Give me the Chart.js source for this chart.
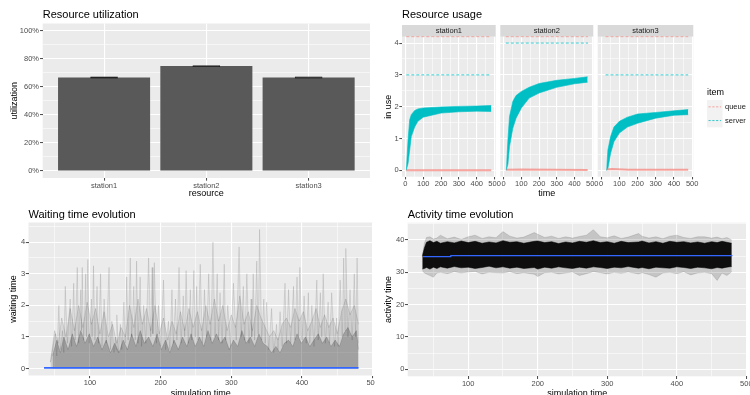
<!DOCTYPE html>
<html><head><meta charset="utf-8">
<script src="https://cdn.jsdelivr.net/npm/chart.js@4/dist/chart.umd.min.js"></script>
<style>
html,body{margin:0;padding:0;background:#fff;overflow:hidden;width:750px;height:395px;position:relative}
canvas{position:absolute}
</style></head><body>
<canvas id="c1" width="375" height="200" style="left:0;top:0"></canvas>
<canvas id="f1" width="375" height="200" style="left:375px;top:0"></canvas>
<canvas id="f2" width="375" height="200" style="left:375px;top:0"></canvas>
<canvas id="f3" width="375" height="200" style="left:375px;top:0"></canvas>
<canvas id="c3" width="375" height="205" style="left:0;top:200px"></canvas>
<canvas id="c4" width="375" height="205" style="left:375px;top:200px"></canvas>
<script>
// ---------------- data ----------------
const stations = ['station1', 'station2', 'station3'];
const utilization = [0.666, 0.747, 0.666];
const utilizationLow = [0.658, 0.740, 0.659];
const utilizationHigh = [0.673, 0.753, 0.672];
const utilizationTicks = [0, 0.2, 0.4, 0.6, 0.8, 1];

const usageItems = ['queue', 'server'];
const serverCapacity = [3, 4, 3];
const queueCapacityDrawn = 4.2; // queue size Inf -> drawn at panel top
const capacityTime = [[5, 481], [12, 476], [24, 478]];
const serverUseTime = [
  [5, 15, 24, 33, 52, 70, 100, 200, 300, 400, 481],
  [15, 24, 33, 52, 70, 100, 144, 200, 300, 400, 474],
  [30, 37, 52, 70, 100, 144, 200, 300, 400, 478]
];
const serverUseLow = [
  [0, 0.22, 0.64, 1.06, 1.36, 1.54, 1.67, 1.80, 1.84, 1.86, 1.85],
  [0, 0.20, 0.75, 1.33, 1.64, 1.96, 2.27, 2.43, 2.61, 2.72, 2.77],
  [0, 0.06, 0.54, 0.90, 1.17, 1.36, 1.48, 1.64, 1.73, 1.75]
];
const serverUseHigh = [
  [0, 0.96, 1.59, 1.75, 1.88, 1.93, 1.96, 1.99, 2.01, 2.02, 2.04],
  [0, 0.95, 1.69, 2.17, 2.35, 2.48, 2.61, 2.73, 2.83, 2.89, 2.94],
  [0, 0.64, 1.06, 1.36, 1.54, 1.67, 1.77, 1.82, 1.87, 1.91]
];
const queueUseTime = [[5, 481], [15, 100, 474], [30, 60, 150, 478]];
const queueUse = [[0, 0], [0.02, 0.03, 0.01], [0.03, 0.04, 0.02, 0.02]];
const usageTimeTicks = [0, 100, 200, 300, 400, 500];
const usageTicks = [0, 1, 2, 3, 4];

const simTimeTicks = [100, 200, 300, 400, 500];
const waitTicks = [0, 1, 2, 3, 4];
const waitMeanTime = [35, 480];
const waitMean = [0.02, 0.02];
const waitTopTime = [44,51,53,56,58,61,63,65,68,72,74,77,79,82,84,87,88,89,91,94,95,97,99,102,103,105,107,110,112,115,117,120,123,127,129,131,134,136,137,138,140,143,145,148,150,152,154,157,159,162,164,166,168,171,173,176,179,183,186,188,189,191,194,197,200,204,207,211,213,216,218,221,223,226,229,232,234,236,239,242,244,247,249,251,253,256,259,262,265,268,271,274,277,280,282,284,287,290,292,295,299,303,307,311,314,317,319,322,325,328,329,331,333,336,338,340,343,346,348,350,353,357,360,364,366,369,372,376,378,381,384,388,390,393,395,397,400,403,406,409,411,414,417,421,423,426,428,430,433,437,439,442,446,449,451,454,457,459,461,462,465,468,471,474,476,478,480];
const waitTop = [0.2,1.1,0.4,2.0,0.6,1.2,0.5,2.6,0.8,2.2,0.7,2.7,0.9,3.2,0.8,2.5,1.2,3.2,0.9,3.0,1.0,3.45,0.8,2.2,1.0,3.25,0.9,2.6,0.8,3.0,0.7,2.2,0.8,3.2,0.6,1.5,0.5,1.0,0.6,1.7,0.5,1.4,0.6,2.1,0.8,2.9,0.9,3.5,1.0,2.6,0.9,3.4,0.8,2.9,0.7,2.0,0.8,3.5,1.0,3.2,1.1,3.35,0.8,2.0,0.7,2.8,0.6,1.5,0.6,2.5,0.8,2.2,0.9,3.2,0.8,2.3,1.0,3.1,0.8,2.5,0.9,3.1,1.0,2.6,0.9,3.3,0.8,2.5,1.0,3.0,0.9,4.0,1.0,3.0,0.9,2.4,0.8,3.3,0.9,2.0,0.7,2.7,0.9,3.85,1.0,2.6,0.9,3.0,0.8,2.2,1.0,3.0,0.9,3.4,1.1,4.4,0.9,2.2,0.8,2.1,0.6,1.9,0.5,1.4,0.6,1.8,0.7,2.7,0.8,2.5,0.8,2.6,0.9,2.9,1.0,3.2,0.9,2.3,0.8,2.4,0.8,2.0,0.7,2.8,0.9,2.4,1.0,3.0,0.8,2.1,0.8,2.4,0.7,1.6,0.7,2.8,1.0,3.5,1.2,3.8,1.0,2.5,0.9,3.0,1.0,3.5,0.8];
const waitMidTime = [44,50,55,60,66,72,78,84,90,96,102,108,114,120,126,132,138,144,150,156,162,168,174,180,186,192,198,204,210,216,222,228,234,240,246,252,258,264,270,276,282,288,294,300,306,312,318,324,330,336,342,348,354,360,366,372,378,384,390,396,402,408,414,420,426,432,438,444,450,456,462,468,474,480];
const waitMid = [0.2,1.2,0.8,1.6,1.0,1.9,1.2,2.0,1.3,2.1,1.4,1.9,1.1,1.8,1.0,1.4,0.8,1.3,1.0,2.0,1.3,2.2,1.4,1.9,1.2,2.0,1.1,1.6,0.9,1.5,1.1,1.8,1.2,1.9,1.3,1.8,1.2,2.0,1.4,2.2,1.5,2.0,1.2,1.7,1.3,2.3,1.4,1.8,1.2,2.0,1.6,1.3,1.0,1.2,0.9,1.4,1.6,1.3,1.9,1.5,1.8,1.2,1.5,1.9,1.3,1.7,1.3,1.6,1.1,1.8,2.2,1.7,2.0,1.4];
const waitLowTime = [47,53,58,63,69,75,81,87,93,99,105,111,117,123,129,135,141,147,153,159,165,171,177,183,189,195,201,207,213,219,225,231,237,243,249,255,261,267,273,279,285,291,297,303,309,315,321,327,333,339,345,351,357,363,369,375,381,387,393,399,405,411,417,423,429,435,441,447,453,459,465,471,477,480];
const waitLow = [0.4,0.9,0.5,1.0,0.6,1.1,0.7,1.2,0.8,1.1,0.7,1.0,0.6,0.9,0.5,0.8,0.5,0.9,0.6,1.1,0.7,1.2,0.8,1.0,0.7,1.1,0.6,0.9,0.5,0.9,0.6,1.0,0.7,1.1,0.7,1.0,0.7,1.2,0.8,1.1,0.8,1.0,0.6,0.9,0.7,1.2,0.8,1.0,0.7,1.1,0.8,0.7,0.5,0.7,0.5,0.8,0.9,0.7,1.1,0.8,1.0,0.7,0.9,1.1,0.8,1.0,0.7,0.9,0.7,1.1,1.3,1.0,1.2,0.6];

const activityTicks = [0, 10, 20, 30, 40];
const actMeanTime = [35, 75, 75, 480];
const actMean = [34.85, 34.85, 35.15, 35.15];
const actTime = [34,37,40,45,50,55,60,70,80,90,100,110,120,130,140,150,160,170,180,195,200,210,220,230,240,250,260,270,280,290,300,310,320,330,345,350,360,370,380,390,400,410,420,430,440,450,458,465,472,479];
const actHigh = [35.0,37.5,39.3,39.8,39.2,39.6,39.0,39.5,39.1,39.7,39.2,39.6,39.0,39.4,39.1,39.8,39.3,39.5,39.0,39.6,39.7,39.2,39.5,38.9,39.4,39.1,39.6,39.3,39.8,39.2,39.5,39.0,39.6,39.2,39.4,39.7,39.1,39.5,39.0,39.6,39.3,39.5,39.1,39.4,39.0,39.5,39.2,39.6,39.3,39.0];
const actLow = [31.0,31.2,31.5,31.0,31.6,31.2,31.7,31.3,31.8,31.4,31.6,31.2,31.5,31.9,31.4,31.7,31.3,31.6,31.2,31.5,31.0,31.6,31.3,31.7,31.4,31.2,31.6,31.3,31.7,31.5,31.2,31.6,31.4,31.8,31.3,31.5,31.1,31.6,31.4,31.3,31.7,31.5,31.2,31.6,31.4,31.1,31.5,31.3,31.6,31.8];
const actOuterHigh = [35.2,39.0,40.8,41.0,40.3,40.6,41.5,40.4,40.9,40.2,41.0,41.5,40.5,41.0,40.7,42.6,41.2,40.6,40.9,42.3,41.8,40.8,41.2,40.5,41.0,40.6,41.1,41.5,43.2,41.0,40.7,41.3,40.5,40.9,42.0,41.2,40.6,41.0,40.4,41.2,41.5,40.8,40.5,41.0,41.0,40.6,40.9,40.4,40.8,40.0];
const actOuterLow = [30.5,29.8,29.5,29.0,28.5,29.8,30.0,29.6,30.2,29.8,30.1,30.3,29.5,30.0,29.9,29.8,30.2,29.6,29.9,29.4,28.7,29.9,30.0,29.5,29.8,30.1,29.0,29.6,30.2,29.9,29.5,30.0,29.7,30.1,29.5,29.9,29.3,28.5,29.8,30.0,29.6,30.2,29.2,29.8,30.0,29.6,27.5,29.8,29.0,30.2];

// ---------------- helpers ----------------
const FONT = "'Liberation Sans', Arial, Helvetica, sans-serif";
Chart.defaults.font.family = FONT;
Chart.defaults.color = '#4D4D4D';
const RED = '#F8766D', CYAN = '#00BFC4';

function pts(xs, ys) { return xs.map((x, i) => ({x: x, y: ys[i]})); }
function halves(ticks) { const m = []; for (let i = 0; i + 1 < ticks.length; i++) m.push((ticks[i] + ticks[i + 1]) / 2); return m; }

const panelBg = {
  id: 'panelBg',
  beforeDraw(chart, args, o) {
    const a = chart.chartArea, ctx = chart.ctx;
    ctx.save();
    ctx.fillStyle = '#EBEBEB';
    ctx.fillRect(a.left, a.top, a.right - a.left, a.bottom - a.top);
    if (o.strip) { ctx.fillStyle = '#D9D9D9'; ctx.fillRect(a.left, a.top - o.strip, a.right - a.left, o.strip); }
    ctx.restore();
  }
};

const itemLegend = {
  id: 'itemLegend',
  afterDraw(chart, args, o) {
    if (!o.labels) return;
    const ctx = chart.ctx;
    ctx.save();
    ctx.textBaseline = 'middle'; ctx.textAlign = 'left';
    ctx.fillStyle = '#000'; ctx.font = '9px ' + FONT;
    ctx.fillText(o.title, o.x, o.titleY);
    ctx.fillStyle = '#F2F2F2';
    ctx.fillRect(o.x, o.keyTop, o.keyW, o.keyH * o.labels.length);
    o.labels.forEach((lab, k) => {
      const cy = o.keyTop + k * o.keyH + o.keyH / 2;
      ctx.strokeStyle = o.colors[k]; ctx.lineWidth = 0.8; ctx.setLineDash([2.2, 1.6]);
      ctx.beginPath(); ctx.moveTo(o.x + 1.5, cy); ctx.lineTo(o.x + o.keyW - 1.5, cy); ctx.stroke();
      ctx.setLineDash([]);
      ctx.fillStyle = '#1A1A1A'; ctx.font = '7.5px ' + FONT;
      ctx.fillText(lab, o.x + o.keyW + 2.5, cy);
    });
    ctx.restore();
  }
};

function linAxis(o) {
  const major = new Set(o.major);
  const all = o.major.concat(o.minor || []).sort((a, b) => a - b);
  return {
    type: 'linear', min: o.min, max: o.max, offset: false,
    afterBuildTicks: s => { s.ticks = all.map(v => ({value: v})); },
    afterFit: s => {
      if (s.isHorizontal()) s.height = o.size; else s.width = o.size;
      s.paddingLeft = 0; s.paddingRight = 0; s.paddingTop = 0; s.paddingBottom = 0;
    },
    border: {display: false},
    grid: {
      offset: false, drawOnChartArea: true, color: '#FFFFFF',
      lineWidth: c => (c.tick && major.has(c.tick.value)) ? 1.1 : 0.55,
      tickColor: c => (!o.noTicks && c.tick && major.has(c.tick.value)) ? '#333333' : 'rgba(0,0,0,0)',
      tickLength: 2.7, tickWidth: 0.9
    },
    ticks: {
      display: !o.noLabels, autoSkip: false, maxRotation: 0, minRotation: 0,
      padding: (o.tickPad === undefined ? 0.4 : o.tickPad), color: '#4D4D4D', font: {size: 7.5},
      callback: v => major.has(v) ? (o.fmt ? o.fmt(v) : String(v)) : ''
    },
    title: o.title ? {display: true, text: o.title, color: '#000000', font: {size: 9}, padding: o.titlePad} : {display: false}
  };
}
function titleOpt(text, pad) {
  return {display: true, text: text, align: 'start', fullSize: false, color: '#000000', font: {size: 11, weight: 'normal'}, padding: pad};
}
function stripOpt(text, pad) {
  return {display: true, text: text, align: 'center', fullSize: false, color: '#1A1A1A', font: {size: 7.5, weight: 'normal', lineHeight: '11.7px'}, padding: pad};
}
function base(padding, scales, plugins) {
  return {
    responsive: false, animation: false, devicePixelRatio: 1, events: [],
    layout: {padding: padding}, scales: scales,
    plugins: Object.assign({legend: {display: false}, tooltip: {enabled: false}}, plugins),
    elements: {point: {radius: 0}, line: {tension: 0}}
  };
}

// ---------------- panel 1: Resource utilization ----------------
new Chart(document.getElementById('c1'), {
  type: 'bar',
  data: {datasets: [
    {label: 'error', data: stations.map((s, i) => ({x: i + 1, y: [utilizationLow[i], utilizationHigh[i]]})),
     backgroundColor: '#222222', borderColor: '#000000', borderWidth: 0.6, borderSkipped: false,
     grouped: false, barPercentage: 0.27, categoryPercentage: 1},
    {label: 'utilization', data: stations.map((s, i) => ({x: i + 1, y: utilization[i]})),
     backgroundColor: '#595959', borderWidth: 0, grouped: false, barPercentage: 0.9, categoryPercentage: 1}
  ]},
  options: base({left: 0, right: 5, top: 0, bottom: 0}, {
    x: linAxis({min: 0.4, max: 3.6, major: [1, 2, 3], minor: [], size: 22, fmt: v => stations[v - 1],
                title: 'resource', titlePad: {top: 0, bottom: 1.2}, tickPad: 0.3}),
    y: linAxis({min: -0.05, max: 1.05, major: utilizationTicks, minor: halves(utilizationTicks), size: 42.7,
                fmt: v => Math.round(v * 100) + '%', title: 'utilization', titlePad: {top: 8.7, bottom: 0}, tickPad: 1})
  }, {title: titleOpt('Resource utilization', {top: 8, bottom: 2.3}), panelBg: {}}),
  plugins: [panelBg]
});

// ---------------- panel 2: Resource usage (facets) ----------------
function facetDatasets(i) {
  return [
    {label: usageItems[0], data: pts(queueUseTime[i], queueUse[i]), borderColor: 'rgba(248,118,109,0.65)', borderWidth: 2, fill: false},
    {label: usageItems[1], data: pts(capacityTime[i], [serverCapacity[i], serverCapacity[i]]), borderColor: CYAN, borderWidth: 0.8, borderDash: [3, 2], fill: false},
    {label: usageItems[0], data: pts(capacityTime[i], [queueCapacityDrawn, queueCapacityDrawn]), borderColor: 'rgba(248,118,109,0.7)', borderWidth: 0.8, borderDash: [3, 2], fill: false, clip: 3},
    {label: usageItems[1], data: pts(serverUseTime[i], serverUseHigh[i]), borderColor: 'rgba(0,191,196,0.6)', borderWidth: 1, backgroundColor: CYAN, fill: '+1'},
    {label: usageItems[1], data: pts(serverUseTime[i], serverUseLow[i]), borderColor: 'rgba(0,191,196,0.6)', borderWidth: 1, fill: false}
  ];
}
function facetX(extra) {
  return linAxis(Object.assign({min: -19, max: 506, major: usageTimeTicks, minor: halves(usageTimeTicks), size: 23.3, tickPad: 0.3}, extra || {}));
}
function facetY(first) {
  return first
    ? linAxis({min: -0.2, max: 4.2, major: usageTicks, minor: halves(usageTicks), size: 27, title: 'in use', titlePad: {top: 7.9, bottom: 0}, tickPad: 0.6})
    : linAxis({min: -0.2, max: 4.2, major: usageTicks, minor: halves(usageTicks), size: 0, noLabels: true, noTicks: true});
}

new Chart(document.getElementById('f1'), {
  type: 'line', data: {datasets: facetDatasets(0)},
  options: base({left: 0, right: 254.3, top: 0, bottom: 0}, {x: facetX(), y: facetY(true)},
    {title: titleOpt('Resource usage', {top: 8, bottom: 3.8}), subtitle: stripOpt(stations[0], 0), panelBg: {strip: 11.7}}),
  plugins: [panelBg]
});
new Chart(document.getElementById('f2'), {
  type: 'line', data: {datasets: facetDatasets(1)},
  options: base({left: 125.3, right: 156.7, top: 25, bottom: 0},
    {x: facetX({title: 'time', titlePad: {top: 0, bottom: 0.6}}), y: facetY(false)},
    {title: stripOpt(stations[1], 0), panelBg: {strip: 11.7}}),
  plugins: [panelBg]
});
new Chart(document.getElementById('f3'), {
  type: 'line', data: {datasets: facetDatasets(2)},
  options: base({left: 222.7, right: 56.7, top: 25, bottom: 0}, {x: facetX(), y: facetY(false)},
    {title: stripOpt(stations[2], 0), panelBg: {strip: 11.7},
     itemLegend: {title: 'item', labels: usageItems, colors: ['rgba(248,118,109,0.8)', CYAN],
                  x: 332, titleY: 93, keyTop: 100, keyW: 15.5, keyH: 13.7}}),
  plugins: [panelBg, itemLegend]
});

// ---------------- panel 3: Waiting time evolution ----------------
new Chart(document.getElementById('c3'), {
  type: 'line',
  data: {datasets: [
    {label: 'mean', data: pts(waitMeanTime, waitMean), borderColor: '#3366FF', borderWidth: 1.6, fill: false},
    {label: 'low', data: pts(waitLowTime, waitLow), borderColor: 'rgba(0,0,0,0.28)', borderWidth: 0.5, backgroundColor: 'rgba(0,0,0,0.22)', fill: 'origin'},
    {label: 'mid', data: pts(waitMidTime, waitMid), borderColor: 'rgba(0,0,0,0.22)', borderWidth: 0.5, backgroundColor: 'rgba(0,0,0,0.08)', fill: 'origin'},
    {label: 'top', data: pts(waitTopTime, waitTop), borderColor: 'rgba(0,0,0,0.2)', borderWidth: 0.5, backgroundColor: 'rgba(0,0,0,0.05)', fill: 'origin'}
  ]},
  options: base({left: 0, right: 2, top: 0, bottom: 0}, {
    x: linAxis({min: 13, max: 500.5, major: simTimeTicks, minor: [50].concat(halves(simTimeTicks)), size: 29.5,
                title: 'simulation time', titlePad: {top: 0, bottom: 5.8}, tickPad: 0.3}),
    y: linAxis({min: -0.22, max: 4.62, major: waitTicks, minor: halves(waitTicks).concat([4.5]), size: 28.5,
                title: 'waiting time', titlePad: {top: 8.1, bottom: 0}, tickPad: 0.6})
  }, {title: titleOpt('Waiting time evolution', {top: 7.9, bottom: 1.4}), panelBg: {}}),
  plugins: [panelBg]
});

// ---------------- panel 4: Activity time evolution ----------------
new Chart(document.getElementById('c4'), {
  type: 'line',
  data: {datasets: [
    {label: 'mean', data: pts(actMeanTime, actMean), borderColor: '#3366FF', borderWidth: 1.2, fill: false},
    {label: 'bandHigh', data: pts(actTime, actHigh), borderColor: 'rgba(0,0,0,0.85)', borderWidth: 0.6, backgroundColor: 'rgba(0,0,0,0.93)', fill: '+1'},
    {label: 'bandLow', data: pts(actTime, actLow), borderColor: 'rgba(0,0,0,0.85)', borderWidth: 0.6, fill: false},
    {label: 'outerHigh', data: pts(actTime, actOuterHigh), borderColor: 'rgba(0,0,0,0.22)', borderWidth: 0.5, backgroundColor: 'rgba(0,0,0,0.16)', fill: '+1'},
    {label: 'outerLow', data: pts(actTime, actOuterLow), borderColor: 'rgba(0,0,0,0.22)', borderWidth: 0.5, fill: false}
  ]},
  options: base({left: 0, right: 3.3, top: 0, bottom: 0}, {
    x: linAxis({min: 13, max: 500.5, major: simTimeTicks, minor: [50].concat(halves(simTimeTicks)), size: 28.7,
                title: 'simulation time', titlePad: {top: 0, bottom: 5.8}, tickPad: 0.3}),
    y: linAxis({min: -2.16, max: 45.36, major: activityTicks, minor: halves(activityTicks).concat([45]), size: 32.7,
                title: 'activity time', titlePad: {top: 8.1, bottom: 0}, tickPad: 0.6})
  }, {title: titleOpt('Activity time evolution', {top: 7.9, bottom: 1.6}), panelBg: {}}),
  plugins: [panelBg]
});
</script>
</body></html>
